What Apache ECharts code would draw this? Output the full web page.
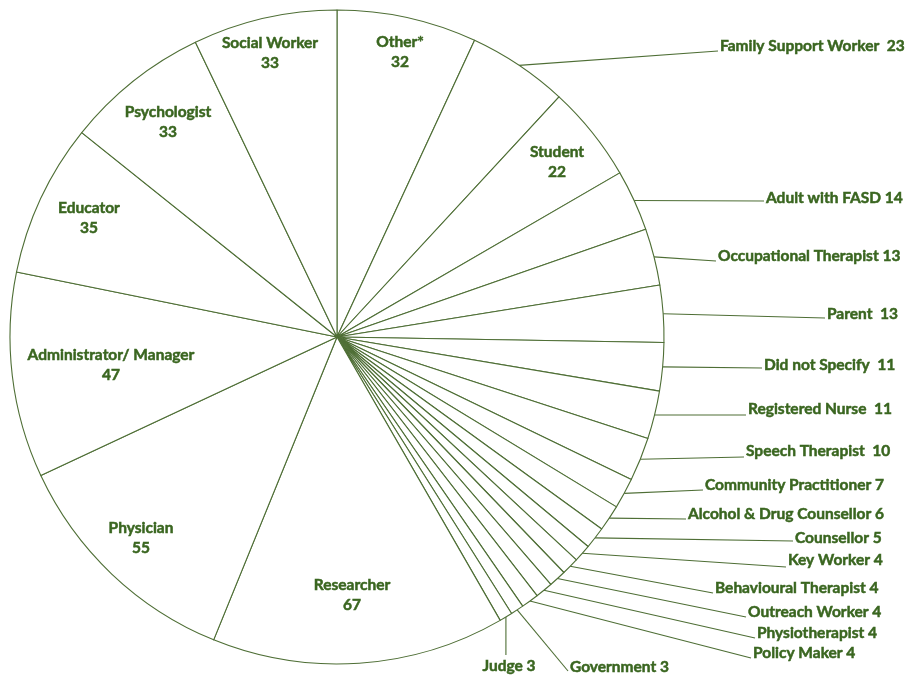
<!DOCTYPE html>
<html><head><meta charset="utf-8">
<script src="https://cdn.jsdelivr.net/npm/echarts@6/dist/echarts.min.js"></script>
<style>html,body{margin:0;padding:0;background:#fff}#chart{width:906px;height:676px}</style>
</head><body><div id="chart"></div>
<script>
// ---- data ----
const categories = ['Other*','Family Support Worker','Student','Adult with FASD','Occupational Therapist','Parent','Did not Specify','Registered Nurse','Speech Therapist','Community Practitioner','Alcohol & Drug Counsellor','Counsellor','Key Worker','Behavioural Therapist','Outreach Worker','Physiotherapist','Policy Maker','Government','Judge','Researcher','Physician','Administrator/ Manager','Educator','Psychologist','Social Worker'];
const counts = [32,23,22,14,13,13,11,11,10,7,6,5,4,4,4,4,4,3,3,67,55,47,35,33,33];
const insideNames = ['Other*','Student','Researcher','Physician','Administrator/ Manager','Educator','Psychologist','Social Worker'];
const wideGapNames = ['Family Support Worker','Parent','Did not Specify','Registered Nurse','Speech Therapist'];

// ---- label layout (styling, not data) ----
const innerLabelAt = {
  'Other*':[400,52], 'Student':[557,162], 'Researcher':[352,595], 'Physician':[141,538],
  'Administrator/ Manager':[111,365], 'Educator':[89,218], 'Psychologist':[168,122], 'Social Worker':[270,53]
};
const outerLabelAt = {
  'Family Support Worker':[720,46,5], 'Adult with FASD':[766,198,3], 'Occupational Therapist':[718,256,5],
  'Parent':[827,314,4], 'Did not Specify':[764,365,3], 'Registered Nurse':[748,409,6],
  'Speech Therapist':[746,451,6], 'Community Practitioner':[705,485,5], 'Alcohol & Drug Counsellor':[688,514,5],
  'Counsellor':[795,538,3], 'Key Worker':[788,560,7], 'Behavioural Therapist':[715,588,5],
  'Outreach Worker':[748,612,5], 'Physiotherapist':[757,633,5], 'Policy Maker':[753,653,5],
  'Government':[570,667,4], 'Judge':[509,666,'below']
};

const TEXT = '#3a6620', LINE = '#4e6e35';
const FONT = 'Lato';

const chart = echarts.init(document.getElementById('chart'), null, {renderer:'canvas'});
const data = categories.map((n,i) => {
  const inside = insideNames.includes(n);
  return {
    name: n, value: counts[i],
    label: inside ? {position:'inside', formatter:'{b}\n{c}', lineHeight:20, align:'center'}
                  : {position:'outside', formatter: wideGapNames.includes(n) ? '{b}  {c}' : '{b} {c}'},
    labelLine: {show: !inside}
  };
});

chart.setOption({
  animation:false,
  backgroundColor:'#fff',
  series:[{
    type:'pie',
    center:[337,337],
    radius:[0,327],
    startAngle:90,
    clockwise:true,
    avoidLabelOverlap:false,
    silent:true,
    itemStyle:{color:'#fff', borderColor:LINE, borderWidth:1.1},
    label:{color:TEXT, fontFamily:FONT, fontWeight:'bold', fontSize:15.5,
           textBorderColor:TEXT, textBorderWidth:0.5},
    labelLine:{lineStyle:{color:LINE, width:1.1}},
    emphasis:{disabled:true},
    data:data,
    labelLayout:function(p){
      const n = categories[p.dataIndex];
      if (innerLabelAt[n]) {
        const c = innerLabelAt[n];
        return {x:c[0], y:c[1], align:'center', verticalAlign:'middle'};
      }
      const o = outerLabelAt[n];
      const p0 = p.labelLinePoints ? p.labelLinePoints[0] : [0,0];
      if (o[2] === 'below') {
        return {x:o[0], y:o[1], align:'center', verticalAlign:'middle',
                labelLinePoints:[p0, [p0[0], o[1]-11]]};
      }
      return {x:o[0], y:o[1], align:'left', verticalAlign:'middle',
              labelLinePoints:[p0, [o[0]-2, o[1]+o[2]]]};
    }
  }]
});
</script>
</body></html>
